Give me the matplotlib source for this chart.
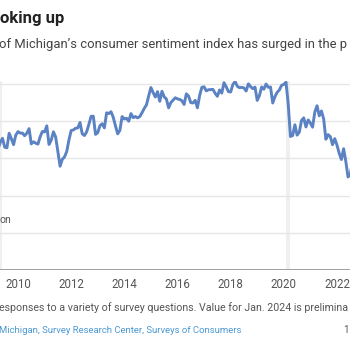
import numpy as np
import matplotlib.pyplot as plt

# University of Michigan consumer sentiment, monthly, Jan 2009 - Jan 2024
start_year = 2009
sentiment = [
    61.2, 56.3, 57.3, 65.1, 68.7, 70.8, 66.0, 65.7, 73.5, 70.6, 67.4, 72.5,  # 2009
    74.4, 73.6, 73.6, 72.2, 73.6, 76.0, 67.8, 68.9, 68.2, 67.7, 71.6, 74.5,  # 2010
    74.2, 77.5, 67.5, 69.8, 74.3, 71.5, 63.7, 55.8, 59.5, 60.8, 63.7, 69.9,  # 2011
    75.0, 75.3, 76.2, 76.4, 79.3, 73.2, 72.3, 74.3, 78.3, 82.6, 82.7, 72.9,  # 2012
    73.8, 77.6, 78.6, 76.4, 84.5, 84.1, 85.1, 82.1, 77.5, 73.2, 75.1, 82.5,  # 2013
    81.2, 81.6, 80.0, 84.1, 81.9, 82.5, 81.8, 82.5, 84.6, 86.9, 88.8, 93.6,  # 2014
    98.1, 95.4, 93.0, 95.9, 90.7, 96.1, 93.1, 91.9, 87.2, 90.0, 91.3, 92.6,  # 2015
    92.0, 91.7, 91.0, 89.0, 94.7, 93.5, 90.0, 89.8, 91.2, 87.2, 93.8, 98.2,  # 2016
    98.5, 96.3, 96.9, 97.0, 97.1, 95.0, 93.4, 96.8, 95.1, 100.7, 98.5, 95.9,  # 2017
    95.7, 99.7, 101.4, 98.8, 98.0, 98.2, 97.9, 96.2, 100.1, 98.6, 97.5, 98.3,  # 2018
    91.2, 93.8, 98.4, 97.2, 100.0, 98.2, 98.4, 89.8, 93.2, 95.5, 96.8, 99.3,  # 2019
    99.8, 101.0, 89.1, 71.8, 72.3, 78.1, 72.5, 74.1, 80.4, 81.8, 76.9, 80.7,  # 2020
    79.0, 76.8, 84.9, 88.3, 82.9, 85.5, 81.2, 70.3, 72.8, 71.7, 67.4, 70.6,  # 2021
    67.2, 62.8, 59.4, 65.2, 58.4, 50.0, 51.5, 58.2, 58.6, 59.9, 56.8, 59.7,  # 2022
    64.9, 67.0, 62.0, 63.5, 59.2, 64.4, 71.5, 69.4, 67.9, 63.8, 61.3, 69.7,  # 2023
    78.8,  # 2024
]
dates = start_year + np.arange(len(sentiment)) / 12

recessions = [(2007 + 11 / 12, 2009 + 5 / 12), (2020 + 1 / 12, 2020 + 3 / 12)]
year_ticks = [2010, 2012, 2014, 2016, 2018, 2020, 2022]
y_grid = [20, 40, 60, 80, 100]

plt.rcParams['font.family'] = ['Roboto', 'DejaVu Sans']
fig = plt.figure(figsize=(3.5, 3.5), dpi=100)

ax = fig.add_axes([0, 80 / 350, 1, 189 / 350])

for a, b in recessions:
    ax.axvspan(a, b, color='#efefef', lw=0, zorder=0)

for g in y_grid:
    ax.axhline(g, color='#e6e6e6', lw=1, zorder=1)
ax.axhline(0, color='#9a9a9a', lw=1.3, zorder=2)

ax.plot(dates, sentiment, color='#5b82c3', lw=2.1, zorder=3,
        solid_joinstyle='round')

ax.set_xticks(year_ticks)
ax.set_xticklabels([str(y) for y in year_ticks])
ax.tick_params(axis='x', length=0, pad=6, labelsize=8.3, labelcolor='#555555')
ax.set_yticks([])
ax.set_xlim(2010 - 18 / 26.58, 2010 + 332 / 26.58)
ax.set_ylim(0, 189 / 1.86)
for s in ax.spines.values():
    s.set_visible(False)
ax.patch.set_alpha(0)

ax.text(2010 - 18 / 26.58, 27, 'on', ha='left', va='center',
        fontsize=7.5, color='#555555')

fig.text(0, 1 - 23 / 350, 'oking up', fontsize=12, fontweight='bold',
         color='#222222', ha='left', va='baseline')
fig.text(-0.004, 1 - 48 / 350,
         'of Michigan\u2019s consumer sentiment index has surged in the p',
         fontsize=9.4, color='#444444', ha='left', va='baseline')
fig.text(-0.004, 1 - 311 / 350,
         'esponses to a variety of survey questions. Value for Jan. 2024 is prelimina',
         fontsize=7.7, color='#555555', ha='left', va='baseline')
fig.text(-0.004, 1 - 333 / 350,
         'Michigan, Survey Research Center, Surveys of Consumers',
         fontsize=6.8, color='#4a98d3', ha='left', va='baseline')
fig.text(343 / 350, 1 - 333 / 350, '1', fontsize=7.0, color='#555555',
         ha='left', va='baseline')

fig.savefig('out.png', dpi=100)
